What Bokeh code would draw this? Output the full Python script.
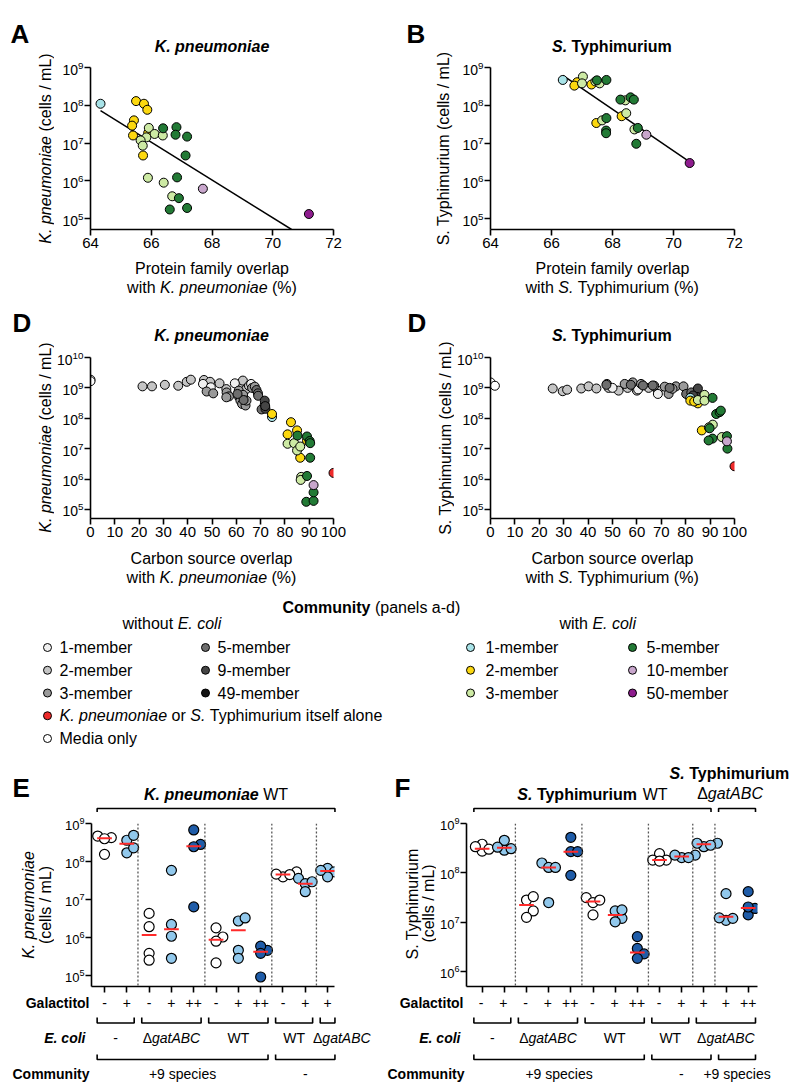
import numpy as np
from bokeh.plotting import figure
from bokeh.models import Range1d, Span, FixedTicker, Plot
from bokeh.layouts import column, row
from bokeh.embed import file_html
from bokeh.resources import INLINE
from bokeh.core.properties import value

FONT = "Liberation Sans"
FA = {'frame_align': False} if 'frame_align' in Plot.properties() else {}

# ============================ DATA ============================
# Panel A: K. pneumoniae (log10 cells/mL) vs protein family overlap (%)
A_ec1_x = [64.33]
A_ec1_log = [8.04]
A_ec2_x = [65.50, 65.76, 65.87, 65.43, 65.37, 65.40, 65.90, 65.73]
A_ec2_log = [8.11, 8.04, 7.88, 7.60, 7.46, 7.20, 7.27, 6.67]
A_ec3_x = [65.92, 66.11, 66.38, 65.84, 65.65, 65.72, 65.89, 66.41, 66.69]
A_ec3_log = [7.40, 7.24, 7.20, 7.15, 7.07, 6.93, 6.08, 5.95, 5.59]
A_ec5_x = [66.39, 66.83, 66.80, 67.18, 67.13, 66.85, 66.91, 66.61, 67.18]
A_ec5_log = [7.39, 7.42, 7.22, 7.17, 6.67, 6.09, 5.54, 5.24, 5.28]
A_ec10_x = [67.70]
A_ec10_log = [5.79]
A_ec50_x = [71.19]
A_ec50_log = [5.12]
A_fit_x = [64.33, 70.62]
A_fit_log = [7.86, 4.71]

# Panel B: S. Typhimurium
B_ec1_x = [66.37]
B_ec1_log = [8.67]
B_ec2_x = [66.84, 66.75, 67.31, 67.47, 68.30]
B_ec2_log = [8.61, 8.52, 8.55, 7.53, 7.71]
B_ec3_x = [67.03, 67.00, 67.44, 67.58, 67.66, 68.45, 68.42, 68.72]
B_ec3_log = [8.76, 8.58, 8.63, 8.58, 7.60, 7.79, 8.13, 7.36]
B_ec5_x = [67.49, 67.80, 67.80, 67.79, 67.79, 68.26, 68.59, 68.70, 68.83, 68.78]
B_ec5_log = [8.66, 8.67, 7.66, 7.33, 7.26, 8.15, 8.21, 8.15, 7.40, 6.98]
B_ec10_x = [69.11]
B_ec10_log = [7.22]
B_ec50_x = [70.53]
B_ec50_log = [6.47]
B_fit_x = [66.37, 70.53]
B_fit_log = [8.79, 6.50]

# Panel D (left): K. pneumoniae vs carbon source overlap (%)
DK_media_x = [0.0, 0.0]
DK_media_log = [9.27, 9.22]
DK_wo1_x = [46.3, 49.5, 59.4, 66.1]
DK_wo1_log = [9.13, 9.02, 9.15, 9.13]
DK_wo2_x = [21.4, 25.3, 30.6, 36.1, 39.6, 41.3, 46.7, 49.2, 53.1, 55.9, 61.7, 62.7, 64.1, 65.2]
DK_wo2_log = [9.05, 9.05, 9.10, 9.07, 9.20, 9.27, 9.26, 9.20, 9.15, 8.96, 9.09, 9.24, 8.96, 9.07]
DK_wo3_x = [47.8, 50.5, 56.0, 57.0, 55.9, 61.0, 61.2, 61.7, 62.4, 62.8, 63.8, 64.2, 66.5, 67.6]
DK_wo3_log = [8.88, 8.82, 8.85, 8.72, 8.69, 8.91, 8.69, 8.58, 8.47, 8.77, 8.42, 8.58, 9.00, 9.04]
DK_wo5_x = [68.3, 68.9, 69.0, 70.4, 71.7, 63.0, 60.5]
DK_wo5_log = [8.93, 8.82, 8.74, 8.29, 8.45, 8.60, 8.80]
DK_wo9_x = [71.7, 72.0, 71.9]
DK_wo9_log = [8.58, 8.31, 8.40]
DK_ec1_x = [74.7]
DK_ec1_log = [8.04]
DK_ec2_x = [74.7, 82.5, 85.0, 81.1, 86.3, 89.1]
DK_ec2_log = [8.14, 7.87, 7.60, 7.47, 6.70, 7.27]
DK_ec3_x = [81.1, 83.8, 85.0, 86.3, 86.7, 86.5]
DK_ec3_log = [7.16, 7.18, 6.94, 7.07, 6.07, 5.97]
DK_ec5_x = [85.2, 89.1, 90.2, 90.4, 90.4, 89.1, 88.8, 91.8, 91.8]
DK_ec5_log = [7.43, 7.40, 7.25, 7.18, 6.70, 6.10, 5.25, 5.28, 5.56]
DK_ec10_x = [91.8]
DK_ec10_log = [5.80]
DK_alone_x = [100.0]
DK_alone_log = [6.20]

# Panel D (right): S. Typhimurium vs carbon source overlap (%)
DS_media_x = [0.0, 1.8]
DS_media_log = [9.18, 9.07]
DS_wo1_x = [50.0, 60.5, 68.6]
DS_wo1_log = [9.00, 8.95, 8.80]
DS_wo2_x = [25.5, 29.6, 31.4, 37.2, 40.2, 43.4, 47.7, 48.4, 52.5, 56.2, 60.0, 64.8, 68.5]
DS_wo2_log = [8.98, 8.89, 8.94, 8.98, 9.05, 8.98, 9.13, 9.00, 8.91, 9.00, 8.91, 9.00, 8.91]
DS_wo3_x = [55.0, 58.3, 61.7, 67.1, 71.4, 73.0, 76.0, 79.1, 74.6]
DS_wo3_log = [9.13, 9.18, 9.13, 9.07, 9.04, 8.80, 9.05, 9.05, 8.97]
DS_wo5_x = [47.5, 57.5, 62.5, 66.5, 73.4, 80.2, 82.3]
DS_wo5_log = [9.10, 9.10, 9.08, 9.08, 9.00, 8.80, 8.85]
DS_wo9_x = [85.0, 84.5, 83.0]
DS_wo9_log = [8.98, 8.70, 8.75]
DS_ec1_x = [81.9]
DS_ec1_log = [8.67]
DS_ec2_x = [81.9, 85.0, 86.6, 83.5]
DS_ec2_log = [8.58, 8.49, 7.60, 8.55]
DS_ec3_x = [85.0, 87.7, 87.7, 91.1, 94.8, 89.5]
DS_ec3_log = [8.60, 8.77, 8.58, 7.79, 7.38, 7.70]
DS_ec5_x = [91.0, 92.5, 93.9, 94.4, 89.8, 91.0, 89.4, 96.9, 97.1]
DS_ec5_log = [8.67, 8.14, 8.20, 8.25, 7.67, 7.33, 7.27, 7.41, 7.00]
DS_ec10_x = [96.9]
DS_ec10_log = [7.24]
DS_alone_x = [100.0]
DS_alone_log = [6.42]

# Panel E: K. pneumoniae WT, replicate log10 densities per condition
E_gal = ["-", "+", "-", "+", "++", "-", "+", "++", "-", "+", "+"]
E_logs = [
    [8.67, 8.63, 8.60, 8.19], [8.56, 8.69, 8.23, 8.36], [6.64, 6.29, 5.59, 5.41],
    [7.77, 6.35, 6.04, 5.46], [8.83, 8.45, 8.39, 6.81], [6.02, 6.26, 5.91, 5.34],
    [6.44, 6.52, 5.67, 5.46], [5.67, 5.78, 5.59, 4.97], [7.60, 7.73, 7.67, 7.66],
    [7.56, 7.42, 7.21, 7.47], [7.82, 7.73, 7.60, 7.77]]
E_center = [8.61, 8.47, 6.07, 6.22, 8.40, 5.95, 6.20, 5.63, 7.66, 7.42, 7.75]
E_fill = ["w", "lb", "w", "lb", "db", "w", "lb", "db", "w", "lb", "lb"]
E_ecoli = [(0, 1, "-"), (2, 4, "ΔgatABC"), (5, 7, "WT"), (8, 9, "WT"), (10, 10, "ΔgatABC")]
E_comm = [(0, 7, "+9 species"), (8, 10, "-")]

# Panel F: S. Typhimurium
F_gal = ["-", "+", "-", "+", "++", "-", "+", "++", "-", "+", "+", "+", "++"]
F_logs = [
    [8.44, 8.58, 8.53, 8.48], [8.46, 8.66, 8.49, 8.52], [7.45, 7.52, 7.23, 7.10],
    [8.20, 8.11, 8.11, 7.40], [8.72, 8.43, 8.43, 7.95], [7.50, 7.40, 7.45, 7.15],
    [7.23, 7.08, 7.25, 7.01], [6.71, 6.47, 6.36, 6.27], [8.39, 8.26, 8.26, 8.24],
    [8.31, 8.36, 8.36, 8.31], [8.53, 8.60, 8.60, 8.56], [7.04, 7.58, 7.09, 7.08],
    [7.62, 7.15, 7.28, 7.31]]
F_center = [8.49, 8.51, 7.35, 8.11, 8.43, 7.42, 7.15, 6.39, 8.26, 8.33, 8.58, 7.11, 7.29]
F_fill = ["w", "lb", "w", "lb", "db", "w", "lb", "db", "w", "lb", "lb", "lb", "db"]
F_ecoli = [(0, 1, "-"), (2, 4, "ΔgatABC"), (5, 7, "WT"), (8, 9, "WT"), (10, 12, "ΔgatABC")]
F_comm = [(0, 7, "+9 species"), (8, 10, "-"), (11, 12, "+9 species")]

# ============================ STYLE ============================
COL = dict(media="#ffffff", wo1="#f0f0f0", wo2="#c4c4c4", wo3="#9a9a9a", wo5="#6e6e6e",
           wo9="#454545", wo49="#141414", alone="#ee2a2a", ec1="#a8e3e8", ec2="#fcd80f",
           ec3="#cdeaa4", ec5="#227a35", ec10="#c8a6cc", ec50="#8e1c8e",
           w="#ffffff", lb="#91c8ec", db="#1f5ca8")

_REG = {' ': 278, '!': 278, '%': 889, '(': 333, ')': 333, '+': 584, ',': 278, '-': 333, '.': 278,
        '/': 278, ':': 278, 'A': 667, 'B': 667, 'C': 722, 'D': 722, 'E': 667, 'F': 611, 'G': 778,
        'H': 722, 'I': 278, 'J': 500, 'K': 667, 'L': 556, 'M': 833, 'N': 722, 'O': 778, 'P': 667,
        'Q': 778, 'R': 722, 'S': 667, 'T': 611, 'U': 722, 'V': 667, 'W': 944, 'X': 667, 'Y': 667,
        'Z': 611, 'a': 556, 'b': 556, 'c': 500, 'd': 556, 'e': 556, 'f': 278, 'g': 556, 'h': 556,
        'i': 222, 'j': 222, 'k': 500, 'l': 222, 'm': 833, 'n': 556, 'o': 556, 'p': 556, 'q': 556,
        'r': 333, 's': 500, 't': 278, 'u': 556, 'v': 500, 'w': 722, 'x': 500, 'y': 500, 'z': 500,
        '\u0394': 668}
_BOLD = {' ': 278, '!': 333, '%': 889, '(': 333, ')': 333, '+': 584, ',': 278, '-': 333, '.': 278,
         '/': 278, ':': 333, 'A': 722, 'B': 722, 'C': 722, 'D': 722, 'E': 667, 'F': 611, 'G': 778,
         'H': 722, 'I': 278, 'J': 556, 'K': 722, 'L': 611, 'M': 833, 'N': 722, 'O': 778, 'P': 667,
         'Q': 778, 'R': 722, 'S': 667, 'T': 611, 'U': 722, 'V': 667, 'W': 944, 'X': 667, 'Y': 667,
         'Z': 611, 'a': 556, 'b': 611, 'c': 556, 'd': 611, 'e': 556, 'f': 333, 'g': 611, 'h': 611,
         'i': 278, 'j': 278, 'k': 556, 'l': 278, 'm': 889, 'n': 611, 'o': 611, 'p': 611, 'q': 611,
         'r': 389, 's': 556, 't': 333, 'u': 611, 'v': 556, 'w': 778, 'x': 556, 'y': 556, 'z': 500,
         '\u0394': 668}


def tw(s, st, size):
    tab = _BOLD if 'bold' in st else _REG
    return sum(tab.get(c, 556) for c in s) * size / 1000.0


def place(pieces, size, anchor, align):
    widths = [tw(t, st, size) for t, st in pieces]
    total = sum(widths)
    x = anchor - {'left': 0.0, 'center': total / 2.0, 'right': total}[align]
    out = []
    for (t, st), w in zip(pieces, widths):
        lead = len(t) - len(t.lstrip(' '))
        out.append((x + tw(' ' * lead, st, size), t.strip(' '), st))
        x += w
    return out


class Canvas:
    """Blank figure whose frame fills it; positions given in local pixels from top-left."""
    def __init__(self, w, h, x0=None, u=1.0):
        self.h = h
        self.x0 = 0.0 if x0 is None else x0
        self.u = u
        self.p = figure(width=w, height=h, title=None,
                        x_range=Range1d(self.x0, self.x0 + w * u), y_range=Range1d(0, h),
                        toolbar_location=None, output_backend='svg', min_border=0,
                        x_axis_location=None, y_axis_location=None, **FA)
        self.p.outline_line_color = None
        self.p.grid.visible = False

    def fx(self, px):
        return self.x0 + px * self.u

    def px(self, x):
        return (x - self.x0) / self.u

    def text(self, pieces, size, ax, ay, align='center', baseline='middle', rotated=False):
        if rotated:
            for off, t, st in place(pieces, size, 0.0, align):
                self.p.text(x=[self.fx(ax)], y=[self.h - ay + off], text=[t], angle=np.pi / 2,
                            text_font=value(FONT), text_font_size=f'{size}px', text_font_style=st,
                            text_align='left', text_baseline=baseline, text_color='black')
        else:
            for off, t, st in place(pieces, size, ax, align):
                self.p.text(x=[self.fx(off)], y=[self.h - ay], text=[t],
                            text_font=value(FONT), text_font_size=f'{size}px', text_font_style=st,
                            text_align='left', text_baseline=baseline, text_color='black')

    def bracket(self, a, b, y_line, y_tip, pad=0.33):
        self.p.line([a - pad, a - pad, b + pad, b + pad],
                    [self.h - y_tip, self.h - y_line, self.h - y_line, self.h - y_tip],
                    line_color='black', line_width=1.6)


def style_axes(p, xsize, ysize):
    p.grid.visible = False
    p.outline_line_color = None
    for ax in p.axis:
        ax.axis_line_width = 1.6
        ax.axis_line_color = 'black'
        ax.major_tick_line_width = 1.6
        ax.major_tick_line_color = 'black'
        ax.major_tick_out = 6
        ax.major_tick_in = 0
        ax.minor_tick_line_color = None
        ax.major_label_text_font = FONT
        ax.major_label_text_color = 'black'
        ax.major_label_standoff = 2
    p.xaxis.major_label_text_font_size = xsize
    p.yaxis.major_label_text_font_size = ysize
    p.yaxis.major_label_standoff = 1


def log_fig(W, H, L, FW, T, FH, xr, ylog):
    return figure(width=W, height=H, title=None, x_range=Range1d(*xr),
                  y_range=Range1d(10 ** ylog[0], 10 ** ylog[1]), y_axis_type='log',
                  toolbar_location=None, output_backend='svg',
                  min_border_left=L, min_border_right=W - L - FW,
                  min_border_top=T, min_border_bottom=H - T - FH, **FA)


DEC = [10.0 ** k for k in range(5, 11)]
STRIP = 54
COLW = 346


def scatter_block(H, top_h, T, FH, L, FW, xr, ylog, xticks, yticks, series, fit,
                  letter, letter_x, letter_base, ylab, ylab_c, title, title_y, xl1, xl2, xl_y):
    plot_h = T + FH + 27
    strip = Canvas(STRIP, H)
    strip.text([(letter, 'bold')], 26, letter_x, letter_base, 'left', 'alphabetic')
    strip.text(ylab, 16, ylab_c[0], ylab_c[1], rotated=True)
    fc = L + FW / 2.0
    top = Canvas(COLW, top_h)
    top.text(title, 16, fc, title_y)
    p = log_fig(COLW, plot_h, L, FW, T, FH, xr, ylog)
    style_axes(p, '15px', '14px')
    p.xaxis.ticker = FixedTicker(ticks=xticks)
    p.yaxis.ticker = FixedTicker(ticks=yticks)
    if fit is not None:
        p.line(fit[0], [10 ** v for v in fit[1]], line_color='black', line_width=1.5)
    for xs, logs, c in series:
        p.scatter(xs, [10 ** v for v in logs], size=9, fill_color=COL[c],
                  line_color='black', line_width=1)
    bot_h = H - top_h - plot_h
    bot = Canvas(COLW, bot_h)
    bot.text(xl1, 16, fc, xl_y[0])
    bot.text(xl2, 16, fc, xl_y[1])
    return row(strip.p, column(top.p, p, bot.p))


# ---------- A / B ----------
panelA = scatter_block(
    298, 55, 12, 162, 36, 243, (64, 72), (4.71, 9.0), [64, 66, 68, 70, 72], DEC[:5],
    [(A_ec1_x, A_ec1_log, 'ec1'), (A_ec2_x, A_ec2_log, 'ec2'), (A_ec3_x, A_ec3_log, 'ec3'),
     (A_ec5_x, A_ec5_log, 'ec5'), (A_ec10_x, A_ec10_log, 'ec10'), (A_ec50_x, A_ec50_log, 'ec50')],
    (A_fit_x, A_fit_log), 'A', 10, 33,
    [('K. pneumoniae', 'italic'), (' (cells / mL)', 'normal')], (45, 148),
    [('K. pneumoniae', 'bold italic')], 46,
    [('Protein family overlap', 'normal')],
    [('with ', 'normal'), ('K. pneumoniae', 'italic'), (' (%)', 'normal')], (12, 31))

panelB = scatter_block(
    298, 55, 12, 162, 36, 244, (64, 72), (4.71, 9.0), [64, 66, 68, 70, 72], DEC[:5],
    [(B_ec1_x, B_ec1_log, 'ec1'), (B_ec2_x, B_ec2_log, 'ec2'), (B_ec3_x, B_ec3_log, 'ec3'),
     (B_ec5_x, B_ec5_log, 'ec5'), (B_ec10_x, B_ec10_log, 'ec10'), (B_ec50_x, B_ec50_log, 'ec50')],
    (B_fit_x, B_fit_log), 'B', 6, 33,
    [('S. Typhimurium (cells / mL)', 'normal')], (43, 147.5),
    [('S.', 'bold italic'), (' Typhimurium', 'bold')], 46,
    [('Protein family overlap', 'normal')],
    [('with ', 'normal'), ('S.', 'italic'), (' Typhimurium (%)', 'normal')], (12, 31))

# ---------- D ----------
XT = list(range(0, 101, 10))
panelDK = scatter_block(
    299, 46, 13, 161, 35, 244, (0, 100), (4.70, 10.0), XT, DEC,
    [(DK_media_x, DK_media_log, 'media'), (DK_wo2_x, DK_wo2_log, 'wo2'),
     (DK_wo1_x, DK_wo1_log, 'wo1'), (DK_wo3_x, DK_wo3_log, 'wo3'),
     (DK_wo5_x, DK_wo5_log, 'wo5'), (DK_wo9_x, DK_wo9_log, 'wo9'),
     (DK_ec1_x, DK_ec1_log, 'ec1'), (DK_ec2_x, DK_ec2_log, 'ec2'),
     (DK_ec3_x, DK_ec3_log, 'ec3'), (DK_ec5_x, DK_ec5_log, 'ec5'),
     (DK_ec10_x, DK_ec10_log, 'ec10'), (DK_alone_x, DK_alone_log, 'alone')],
    None, 'D', 12, 24,
    [('K. pneumoniae', 'italic'), (' (cells / mL)', 'normal')], (45, 139),
    [('K. pneumoniae', 'bold italic')], 37,
    [('Carbon source overlap', 'normal')],
    [('with ', 'normal'), ('K. pneumoniae', 'italic'), (' (%)', 'normal')], (13, 32))

panelDS = scatter_block(
    299, 46, 13, 161, 36, 244, (0, 100), (4.70, 10.0), XT, DEC,
    [(DS_media_x, DS_media_log, 'media'), (DS_wo2_x, DS_wo2_log, 'wo2'),
     (DS_wo1_x, DS_wo1_log, 'wo1'), (DS_wo3_x, DS_wo3_log, 'wo3'),
     (DS_wo5_x, DS_wo5_log, 'wo5'), (DS_wo9_x, DS_wo9_log, 'wo9'),
     (DS_ec1_x, DS_ec1_log, 'ec1'), (DS_ec2_x, DS_ec2_log, 'ec2'),
     (DS_ec3_x, DS_ec3_log, 'ec3'), (DS_ec5_x, DS_ec5_log, 'ec5'),
     (DS_ec10_x, DS_ec10_log, 'ec10'), (DS_alone_x, DS_alone_log, 'alone')],
    None, 'D', 7, 24,
    [('S. Typhimurium (cells / mL)', 'normal')], (45, 139),
    [('S.', 'bold italic'), (' Typhimurium', 'bold')], 37,
    [('Carbon source overlap', 'normal')],
    [('with ', 'normal'), ('S.', 'italic'), (' Typhimurium (%)', 'normal')], (13, 32))

# ---------- Legend ----------
leg = Canvas(800, 168)
leg.text([('Community', 'bold'), (' (panels a-d)', 'normal')], 16, 282, 10, 'left')
leg.text([('without ', 'normal'), ('E. coli', 'italic')], 16, 122, 26, 'left')
leg.text([('with ', 'normal'), ('E. coli', 'italic')], 16, 559, 26, 'left')
LEG_COLS = [
    (47, 59, [('wo1', [('1-member', 'normal')]), ('wo2', [('2-member', 'normal')]),
              ('wo3', [('3-member', 'normal')]),
              ('alone', [('K. pneumoniae', 'italic'), (' or ', 'normal'), ('S.', 'italic'),
                         (' Typhimurium itself alone', 'normal')]),
              ('media', [('Media only', 'normal')])]),
    (205, 217, [('wo5', [('5-member', 'normal')]), ('wo9', [('9-member', 'normal')]),
                ('wo49', [('49-member', 'normal')])]),
    (470, 485, [('ec1', [('1-member', 'normal')]), ('ec2', [('2-member', 'normal')]),
                ('ec3', [('3-member', 'normal')])]),
    (632, 646, [('ec5', [('5-member', 'normal')]), ('ec10', [('10-member', 'normal')]),
                ('ec50', [('50-member', 'normal')])]),
]
for mx, tx, entries in LEG_COLS:
    ys = [50 + 22.75 * k for k in range(len(entries))]
    leg.p.scatter([mx] * len(entries), [leg.h - y for y in ys], size=8,
                  fill_color=[COL[c] for c, _ in entries], line_color='black', line_width=1)
    for yy, (_, pieces) in zip(ys, entries):
        leg.text(pieces, 16, tx, yy, 'left')


# ---------- E / F ----------
def swarm(logs, ppd, ppu, d=10.0):
    ys = [v * ppd for v in logs]
    order = sorted(range(len(ys)), key=lambda i: ys[i])
    placed, offs = [], [0.0] * len(ys)
    step = 0.68 * d
    for i in order:
        ox = 0.0
        for k in (0, 1, -1, 2, -2, 3, -3):
            ox = k * step
            if all((ox - px) ** 2 + (ys[i] - py) ** 2 >= step ** 2 - 1e-6 for px, py in placed):
                break
        placed.append((ox, ys[i]))
        offs[i] = ox / ppu
    return offs


def styled(lab):
    if lab == 'ΔgatABC':
        return [('Δ', 'normal'), ('gatABC', 'italic')]
    return [(lab, 'normal')]


def group_block(W, strip_w, L, FW, xr, ylog, yticks, logs, centers, fills, gal, ecoli, comm,
                top_blocks, letter, letter_x, ylab_lines, ylab_cy, gal_r, ecoli_r, comm_r, clamp_r):
    n = len(logs)
    u = (xr[1] - xr[0]) / FW
    x0 = xr[0] - (strip_w + L) * u
    # --- top: letter, strain titles, brackets
    top = Canvas(W, 47, x0, u)
    top.text([(letter, 'bold')], 26, letter_x, 22, 'left', 'alphabetic')
    for a, b, lines in top_blocks:
        top.bracket(a, b, 43, 47)
        wmax = max(sum(tw(t, st, 16) for t, st in pcs) for pcs, _ in lines)
        c = min(top.px((a + b) / 2.0), clamp_r - wmax / 2.0)
        for pcs, yy in lines:
            top.text(pcs, 16, c, yy)
    # --- middle: y label strip + data plot
    T, FH, B = 11, 163, 10
    PH = T + FH + B
    strip = Canvas(strip_w, PH)
    for pcs, cx in ylab_lines:
        strip.text(pcs, 16, cx, ylab_cy, rotated=True)
    p = log_fig(W - strip_w, PH, L, FW, T, FH, xr, ylog)
    style_axes(p, '1px', '13px')
    p.xaxis.ticker = FixedTicker(ticks=list(range(n)))
    p.xaxis.major_label_overrides = {i: '' for i in range(n)}
    p.xaxis.major_label_standoff = 0
    p.yaxis.ticker = FixedTicker(ticks=yticks)
    divs = sorted({bb + 0.5 for blocks in (ecoli, [(a, b, '') for a, b, _ in top_blocks])
                   for (_, bb, _) in blocks[:-1]})
    for d in divs:
        p.add_layout(Span(location=d, dimension='height', line_color='#555555',
                          line_dash='2 2', line_width=1.3))
    ppd = FH / (ylog[1] - ylog[0])
    ppu = FW / (xr[1] - xr[0])
    xs, ys, cs = [], [], []
    for i, (lv, c) in enumerate(zip(logs, fills)):
        offs = swarm(lv, ppd, ppu)
        xs += [i + o for o in offs]
        ys += [10 ** v for v in lv]
        cs += [COL[c]] * len(lv)
    p.scatter(xs, ys, size=10, fill_color=cs, line_color='black', line_width=1.2)
    p.segment(x0=[i - 0.33 for i in range(n)], x1=[i + 0.33 for i in range(n)],
              y0=[10 ** c for c in centers], y1=[10 ** c for c in centers],
              line_color='#ff2a2a', line_width=2)
    # --- bottom: galactitol row, E. coli row, community row
    bot = Canvas(W, 90, x0, u)
    for i, g in enumerate(gal):
        bot.text([(g, 'normal')], 14, bot.px(i), 6)
    bot.text([('Galactitol', 'bold')], 14, gal_r, 6, 'right')
    prev_right = -1e9
    for a, b, lab in ecoli:
        bot.bracket(a, b, 26.5, 21)
        pcs = styled(lab)
        w = sum(tw(t, st, 14) for t, st in pcs)
        left = bot.px((a + b) / 2.0) - w / 2.0
        if left < prev_right + 8:
            left = prev_right + 8
        bot.text(pcs, 14, left, 41, 'left')
        prev_right = left + w
    for a, b, lab in comm:
        bot.bracket(a, b, 63, 58)
        bot.text(styled(lab), 14, bot.px((a + b) / 2.0), 77)
    bot.text([('E. coli', 'bold italic')], 14, ecoli_r, 41, 'right')
    bot.text([('Community', 'bold')], 14, comm_r, 77, 'right')
    return column(top.p, row(strip.p, p), bot.p)


E_top = [(0, 10, [([('K. pneumoniae', 'bold italic'), (' WT', 'normal')], 29)])]
panelE = group_block(386, 54, 37, 243, (-0.583, 10.31), (4.72, 9.0), DEC[:5],
                     E_logs, E_center, E_fill, E_gal, E_ecoli, E_comm, E_top, 'E', 12,
                     [([('K. pneumoniae', 'italic')], 28), ([('(cells / mL)', 'normal')], 45)],
                     92.5, 89, 85, 89, 384)

F_top = [(0, 10, [([('S.', 'bold italic'), (' Typhimurium', 'bold'), (' WT', 'normal')], 29)]),
         (11, 12, [([('S.', 'bold italic'), (' Typhimurium', 'bold')], 8),
                   ([('Δ', 'normal'), ('gatABC', 'italic')], 28)])]
panelF = group_block(414, 50, 29, 292, (-0.706, 12.42), (5.70, 9.0), DEC[1:5],
                     F_logs, F_center, F_fill, F_gal, F_ecoli, F_comm, F_top, 'F', 8,
                     [([('S. Typhimurium', 'normal')], 25.7), ([('(cells / mL)', 'normal')], 42)],
                     91, 77, 74, 78, 404)

layout = column(row(panelA, panelB), row(panelDK, panelDS), leg.p, row(panelE, panelF))

open("out.html", "w").write(file_html(layout, INLINE))
